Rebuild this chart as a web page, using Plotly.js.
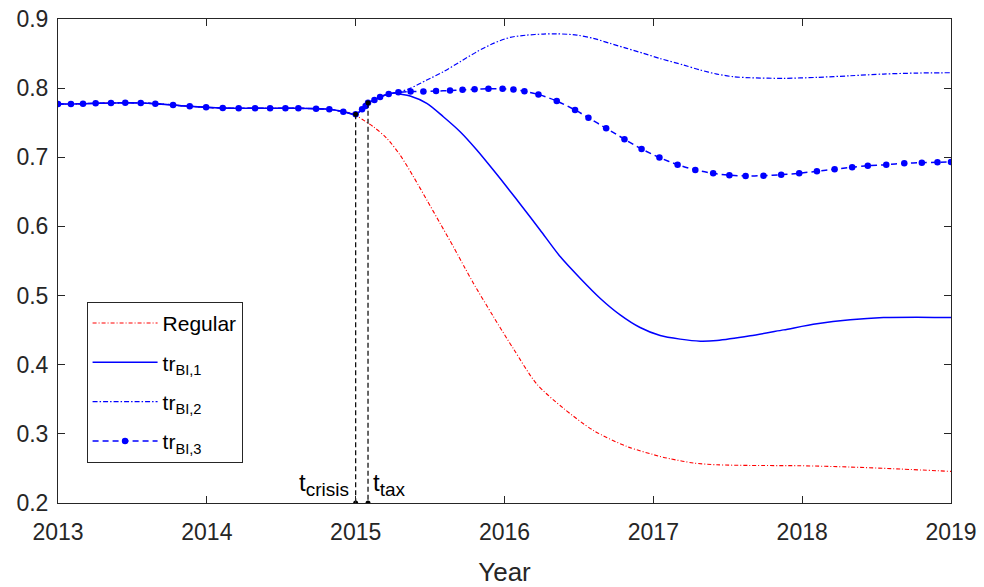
<!DOCTYPE html>
<html>
<head>
<meta charset="utf-8">
<script src="https://cdn.plot.ly/plotly-3.0.1.min.js"></script>
<style>html,body{margin:0;padding:0;background:#fff;}#chart{width:984px;height:587px;}</style>
</head>
<body>
<div id="chart"></div>
<script>
// Common path before the crisis (all series coincide)
var tPre = [2013.0, 2013.087, 2013.168, 2013.253, 2013.356, 2013.452, 2013.556, 2013.654, 2013.773, 2013.885, 2013.995, 2014.107, 2014.214, 2014.324, 2014.425, 2014.528, 2014.615, 2014.734, 2014.823, 2014.917, 2015.0];
var vPre = [0.7770, 0.7770, 0.7775, 0.7780, 0.7785, 0.7789, 0.7785, 0.7775, 0.7756, 0.7737, 0.7723, 0.7712, 0.7708, 0.7708, 0.7708, 0.7708, 0.7708, 0.7703, 0.7694, 0.7660, 0.7621];

// Regular (after crisis)
var tReg = [2015.018, 2015.119, 2015.209, 2015.298, 2015.388, 2015.478, 2015.567, 2015.657, 2015.735, 2015.791, 2015.925, 2016.060, 2016.217, 2016.396, 2016.597, 2016.822, 2017.046, 2017.113, 2017.270, 2017.427, 2017.651, 2017.987, 2018.323, 2018.659, 2019.0];
var vReg = [0.7587, 0.7442, 0.7275, 0.7033, 0.6720, 0.6383, 0.6046, 0.5704, 0.5396, 0.5179, 0.4697, 0.4230, 0.3720, 0.3370, 0.3050, 0.2818, 0.2673, 0.2640, 0.2578, 0.2553, 0.2543, 0.2539, 0.2520, 0.2491, 0.2457];

// tr_BI,1 (after crisis)
var tTr1 = [2015.043, 2015.067, 2015.083, 2015.126, 2015.164, 2015.222, 2015.265, 2015.298, 2015.366, 2015.478, 2015.589, 2015.702, 2015.814, 2015.925, 2016.038, 2016.105, 2016.239, 2016.374, 2016.508, 2016.642, 2016.777, 2016.911, 2017.046, 2017.180, 2017.315, 2017.427, 2017.651, 2017.875, 2018.099, 2018.323, 2018.546, 2018.770, 2019.0];
var vTr1 = [0.7694, 0.7741, 0.7789, 0.7827, 0.7871, 0.7915, 0.7929, 0.7915, 0.7886, 0.7780, 0.7587, 0.7370, 0.7106, 0.6816, 0.6510, 0.6325, 0.5949, 0.5564, 0.5251, 0.4962, 0.4721, 0.4538, 0.4422, 0.4370, 0.4340, 0.4350, 0.4418, 0.4504, 0.4591, 0.4649, 0.4682, 0.4688, 0.4682];

// tr_BI,2 (after crisis)
var tTr2 = [2015.043, 2015.067, 2015.083, 2015.126, 2015.164, 2015.222, 2015.298, 2015.366, 2015.478, 2015.589, 2015.702, 2015.814, 2015.925, 2016.038, 2016.150, 2016.261, 2016.351, 2016.486, 2016.597, 2016.710, 2016.822, 2016.934, 2017.046, 2017.202, 2017.315, 2017.427, 2017.538, 2017.651, 2017.875, 2018.099, 2018.323, 2018.546, 2018.770, 2019.0];
var vTr2 = [0.7694, 0.7741, 0.7789, 0.7827, 0.7871, 0.7915, 0.7948, 0.7997, 0.8117, 0.8237, 0.8382, 0.8526, 0.8647, 0.8734, 0.8767, 0.8782, 0.8786, 0.8767, 0.8720, 0.8647, 0.8575, 0.8503, 0.8428, 0.8335, 0.8262, 0.8204, 0.8165, 0.8150, 0.8142, 0.8156, 0.8179, 0.8204, 0.8218, 0.8223];

// tr_BI,3 (after crisis) - marker points
var tTr3 = [2015.043, 2015.067, 2015.083, 2015.126, 2015.164, 2015.222, 2015.287, 2015.369, 2015.455, 2015.540, 2015.634, 2015.718, 2015.799, 2015.892, 2015.987, 2016.060, 2016.134, 2016.228, 2016.351, 2016.474, 2016.564, 2016.683, 2016.806, 2016.921, 2017.041, 2017.163, 2017.282, 2017.402, 2017.511, 2017.620, 2017.740, 2017.859, 2017.980, 2018.099, 2018.218, 2018.336, 2018.441, 2018.565, 2018.686, 2018.804, 2018.909, 2019.0];
var vTr3 = [0.7694, 0.7741, 0.7789, 0.7827, 0.7871, 0.7915, 0.7939, 0.7951, 0.7951, 0.7958, 0.7965, 0.7975, 0.7983, 0.7990, 0.7990, 0.7980, 0.7954, 0.7908, 0.7814, 0.7684, 0.7572, 0.7419, 0.7262, 0.7120, 0.6997, 0.6893, 0.6817, 0.6769, 0.6741, 0.6730, 0.6734, 0.6749, 0.6769, 0.6798, 0.6827, 0.6855, 0.6879, 0.6893, 0.6913, 0.6922, 0.6928, 0.6932];

// Event times
var tCrisis = 2015.0, vCrisis = 0.7621;
var tTax = 2015.083, vTax = 0.7789;
var yMin = 0.2;

var seriesNames = ['Regular', 'tr<sub>BI,1</sub>', 'tr<sub>BI,2</sub>', 'tr<sub>BI,3</sub>'];
var xTicks = [2013, 2014, 2015, 2016, 2017, 2018, 2019];
var yTicks = [0.2, 0.3, 0.4, 0.5, 0.6, 0.7, 0.8, 0.9];

var FONT = 'Arial, "Liberation Sans", Helvetica, sans-serif';
var BLUE = '#0000ff', RED = '#ff0000';

var traces = [
  {x: tPre.concat(tReg), y: vPre.concat(vReg), name: seriesNames[0], mode: 'lines', legendgroup: 'a',
   line: {color: RED, width: 1.1, dash: '4px,2px,1px,2px', shape: 'spline', smoothing: 0.8}},
  {x: tPre.concat(tTr1), y: vPre.concat(vTr1), name: seriesNames[1], mode: 'lines', legendgroup: 'b',
   line: {color: BLUE, width: 1.5, shape: 'spline', smoothing: 0.8}},
  {x: tPre.concat(tTr2), y: vPre.concat(vTr2), name: seriesNames[2], mode: 'lines', legendgroup: 'c',
   line: {color: BLUE, width: 1.2, dash: '5px,2px,1.5px,2px', shape: 'spline', smoothing: 0.8}},
  {x: tPre.concat(tTr3), y: vPre.concat(vTr3), name: seriesNames[3], mode: 'lines+markers', legendgroup: 'd',
   line: {color: BLUE, width: 1.5, dash: '6px,4px', shape: 'spline', smoothing: 0.8},
   marker: {color: BLUE, size: 6.5}},
  {x: [tCrisis, tCrisis], y: [vCrisis, yMin], mode: 'lines+markers', showlegend: false,
   line: {color: '#000000', width: 1.2, dash: '5px,3px'}, marker: {color: '#000000', size: 5}},
  {x: [tTax, tTax], y: [vTax, yMin], mode: 'lines+markers', showlegend: false,
   line: {color: '#000000', width: 1.2, dash: '5px,3px'}, marker: {color: '#000000', size: 5}}
];

var axisCommon = {
  showline: true, mirror: 'allticks', linecolor: '#262626', linewidth: 1,
  ticks: 'inside', ticklen: 7, tickcolor: '#262626', tickwidth: 1,
  showgrid: false, zeroline: false,
  tickfont: {family: FONT, size: 23, color: '#262626'}
};

var layout = {
  width: 984, height: 587,
  margin: {l: 58, r: 33, t: 19, b: 84},
  paper_bgcolor: '#ffffff', plot_bgcolor: '#ffffff',
  font: {family: FONT, color: '#262626'},
  xaxis: Object.assign({}, axisCommon, {
    range: [2013, 2019], tickvals: xTicks, ticktext: xTicks.map(String), ticklabelstandoff: 8,
    title: {text: 'Year', font: {family: FONT, size: 26, color: '#262626'}, standoff: 19}
  }),
  yaxis: Object.assign({}, axisCommon, {
    range: [0.2, 0.9], tickvals: yTicks, ticktext: yTicks.map(function(v){return v.toFixed(1);}),
    ticklabelstandoff: 4
  }),
  legend: {
    x: 0.032, y: 0.4156, xanchor: 'left', yanchor: 'top',
    bordercolor: '#262626', borderwidth: 1, bgcolor: '#ffffff',
    font: {family: FONT, size: 21, color: '#000000'},
    itemwidth: 65, traceorder: 'grouped', tracegroupgap: 9
  },
  annotations: [
    {x: tCrisis, y: yMin, xref: 'x', yref: 'y', xanchor: 'right', yanchor: 'bottom', xshift: -5, yshift: 1,
     text: 't<sub><span style="font-size:19px">crisis</span></sub>', showarrow: false, font: {family: FONT, size: 24, color: '#000000'}},
    {x: tTax, y: yMin, xref: 'x', yref: 'y', xanchor: 'left', yanchor: 'bottom', xshift: 3, yshift: 1,
     text: 't<sub><span style="font-size:19px">tax</span></sub>', showarrow: false, font: {family: FONT, size: 24, color: '#000000'}}
  ],
  showlegend: true
};

Plotly.newPlot('chart', traces, layout, {displayModeBar: false, staticPlot: true});
</script>
</body>
</html>
